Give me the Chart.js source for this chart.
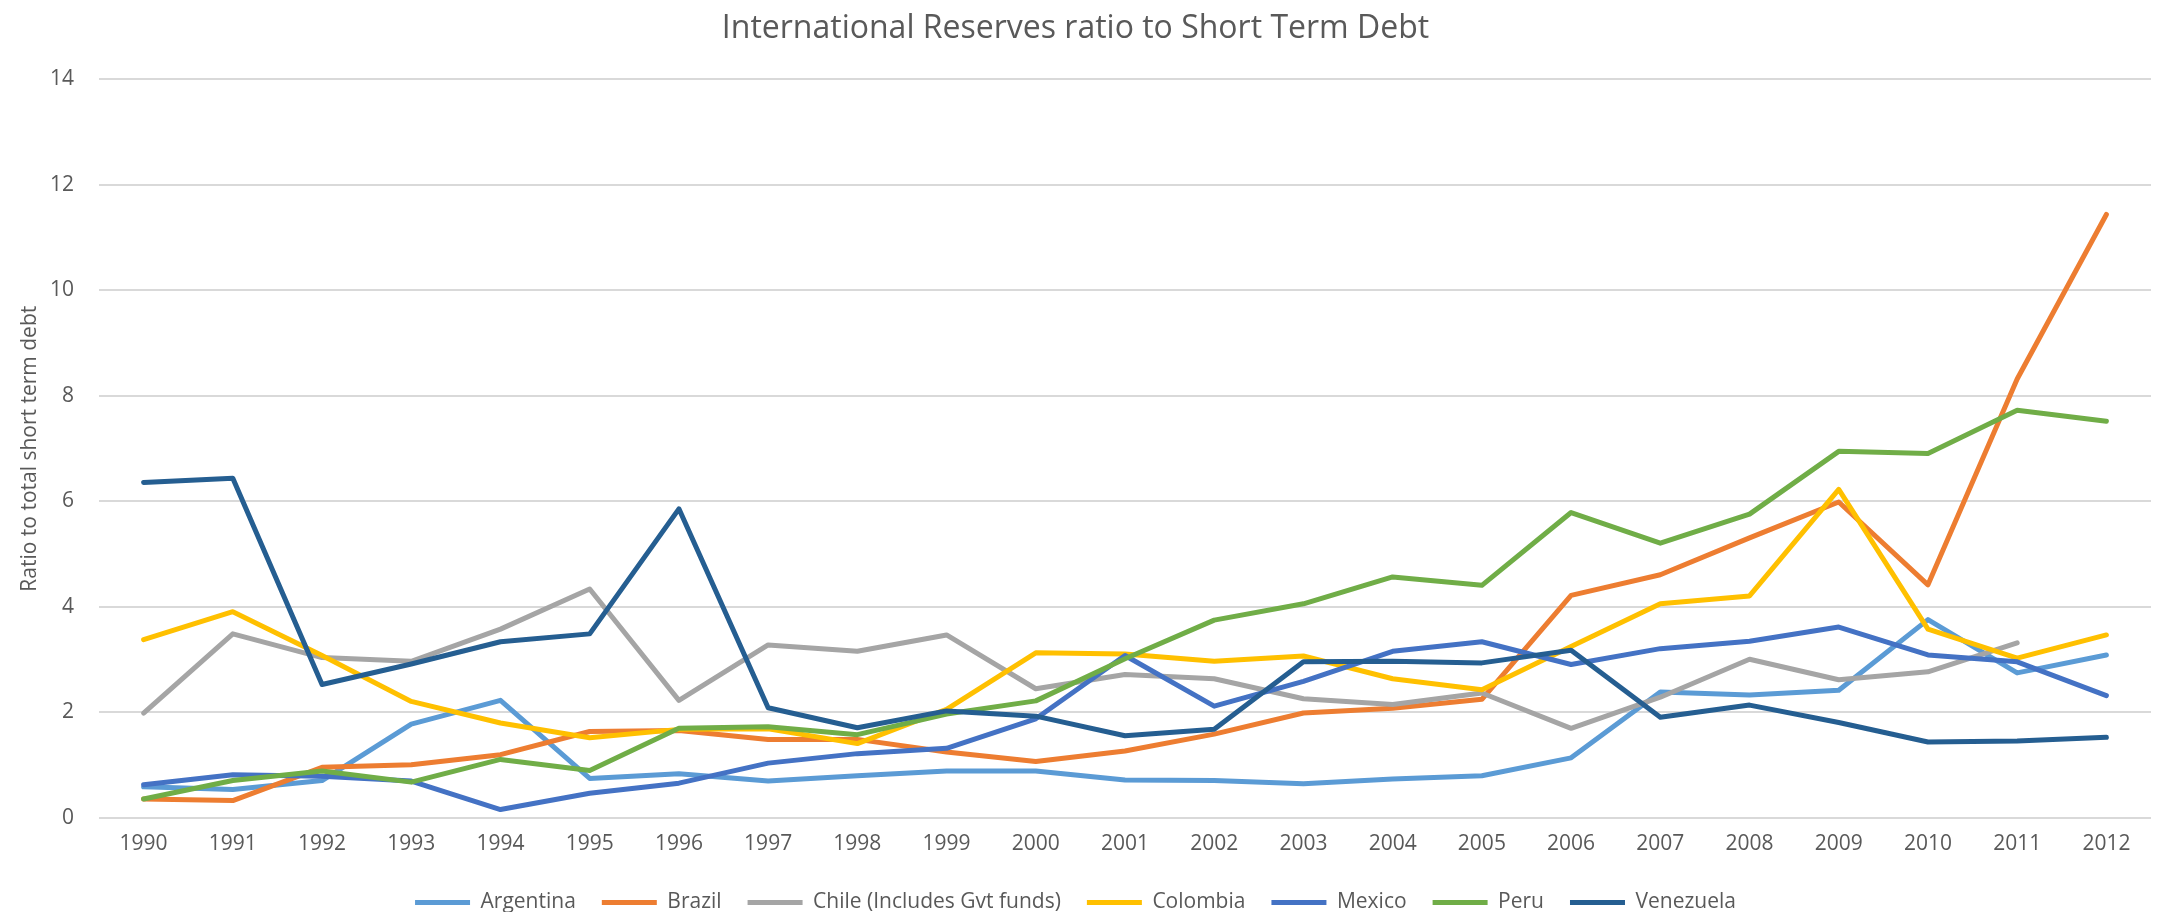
<!DOCTYPE html>
<html>
<head>
<meta charset="utf-8">
<title>International Reserves ratio to Short Term Debt</title>
<script src="https://cdn.jsdelivr.net/npm/chart.js@4/dist/chart.umd.min.js"></script>
<style>
  html, body { margin: 0; padding: 0; background: #ffffff; }
  #wrap { width: 2157px; height: 912px; }
</style>
</head>
<body>
<div id="wrap"><canvas id="chart" width="2157" height="912"></canvas></div>
<script>
// Years on the category axis
const years = ['1990','1991','1992','1993','1994','1995','1996','1997','1998','1999','2000','2001',
               '2002','2003','2004','2005','2006','2007','2008','2009','2010','2011','2012'];

// Reserves / short-term debt ratio per country
const argentina = [0.59,0.54,0.71,1.78,2.23,0.75,0.84,0.70,0.80,0.89,0.89,0.72,0.71,0.65,0.74,0.80,1.14,2.39,2.33,2.42,3.76,2.75,3.09];
const brazil    = [0.36,0.33,0.96,1.01,1.20,1.64,1.66,1.49,1.49,1.25,1.07,1.27,1.59,1.99,2.08,2.25,4.22,4.61,5.31,5.99,4.42,8.32,11.44];
const chile     = [1.99,3.49,3.04,2.97,3.58,4.34,2.23,3.28,3.16,3.47,2.45,2.72,2.64,2.26,2.15,2.37,1.70,2.29,3.01,2.62,2.77,3.32,null];
const colombia  = [3.38,3.91,3.08,2.21,1.80,1.52,1.68,1.69,1.41,2.06,3.13,3.11,2.97,3.07,2.64,2.43,3.25,4.06,4.21,6.23,3.58,3.03,3.47];
const mexico    = [0.63,0.82,0.79,0.70,0.16,0.47,0.66,1.04,1.22,1.32,1.88,3.08,2.12,2.59,3.16,3.34,2.91,3.21,3.35,3.62,3.09,2.96,2.32];
const peru      = [0.36,0.71,0.89,0.68,1.11,0.90,1.70,1.73,1.58,1.97,2.22,3.02,3.75,4.06,4.57,4.41,5.79,5.21,5.76,6.95,6.91,7.73,7.52];
const venezuela = [6.36,6.44,2.53,2.92,3.34,3.49,5.86,2.09,1.71,2.03,1.93,1.56,1.68,2.96,2.97,2.94,3.18,1.91,2.14,1.81,1.44,1.46,1.53];

const seriesNames = ['Argentina','Brazil','Chile (Includes Gvt funds)','Colombia','Mexico','Peru','Venezuela'];
const seriesValues = [argentina, brazil, chile, colombia, mexico, peru, venezuela];
const seriesColors = ['#5B9BD5','#ED7D31','#A5A5A5','#FFC000','#4472C4','#70AD47','#255E91'];

const yTicks = { min: 0, max: 14, step: 2 };

const textColor = '#595959';
const fontFamily = '"Open Sans", "DejaVu Sans", sans-serif';

const datasets = seriesNames.map((name, i) => ({
  label: name,
  data: seriesValues[i],
  borderColor: seriesColors[i],
  backgroundColor: seriesColors[i],
  borderWidth: 5,
  borderCapStyle: 'round',
  borderJoinStyle: 'round',
  pointRadius: 0,
  pointHoverRadius: 0,
  pointStyle: 'line',
  tension: 0,
  fill: false,
  // later series are painted above earlier ones
  order: seriesNames.length - i
}));

new Chart(document.getElementById('chart'), {
  type: 'line',
  data: { labels: years, datasets },
  options: {
    responsive: false,
    animation: false,
    devicePixelRatio: 1,
    layout: { padding: { left: 0, right: 6, top: 0, bottom: -11 } },
    plugins: {
      title: {
        display: true,
        text: 'International Reserves ratio to Short Term Debt',
        color: textColor,
        font: { family: fontFamily, size: 32, weight: '400' },
        padding: { top: 10, bottom: 31 }
      },
      legend: {
        display: true,
        position: 'bottom',
        labels: {
          color: textColor,
          font: { family: fontFamily, size: 21 },
          usePointStyle: true,
          pointStyleWidth: 55,
          padding: 26,
          sort: (a, b) => a.datasetIndex - b.datasetIndex
        }
      },
      tooltip: { enabled: false }
    },
    scales: {
      x: {
        type: 'category',
        offset: true,
        grid: { display: false, drawTicks: false },
        border: { display: false },
        ticks: {
          color: textColor,
          font: { family: fontFamily, size: 21 },
          padding: 13,
          maxRotation: 0,
          autoSkip: false
        },
        afterFit: (scale) => { scale.height = 48; }
      },
      y: {
        min: yTicks.min,
        max: yTicks.max,
        grid: { color: '#D9D9D9', lineWidth: 2, drawTicks: false },
        border: { display: false },
        ticks: {
          stepSize: yTicks.step,
          color: textColor,
          font: { family: fontFamily, size: 21 },
          padding: 25
        },
        title: {
          display: true,
          text: 'Ratio to total short term debt',
          color: textColor,
          font: { family: fontFamily, size: 21 },
          padding: { top: 17, bottom: 0 }
        },
        afterFit: (scale) => { scale.width = 99; }
      }
    }
  }
});
</script>
</body>
</html>
